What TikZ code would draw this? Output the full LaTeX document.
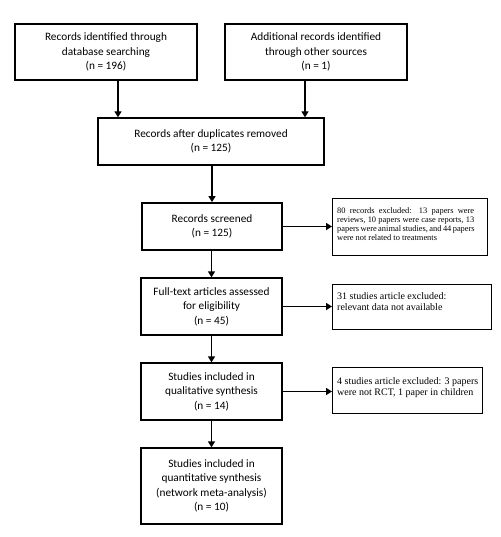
\documentclass[tikz,border=0pt]{standalone}
\usepackage{fontspec}
\setmainfont{Carlito}
\newfontfamily\sidefont{Liberation Serif}
\usetikzlibrary{arrows.meta}
\begin{document}
\begin{tikzpicture}[x=1pt,y=-1pt,
  mainbox/.style={draw, line width=1.3pt, rectangle, align=center, inner sep=0pt,
    font=\fontsize{11.3}{14.5}\selectfont},
  sidebox/.style={draw, line width=1.3pt, rectangle, inner sep=0pt, anchor=north west},
  sidetext/.style={inner sep=0pt, anchor=north west, align=left,
    font=\sidefont\fontsize{10}{11.5}\selectfont},
  arr/.style={line width=1.3pt, -{Triangle[length=6pt,width=7pt]}}]
\useasboundingbox (0,0) rectangle (500,537);
\fill[white] (0,0) rectangle (500,537);
\node[mainbox, minimum width=182pt, minimum height=56pt] (b1) at (106,52)
  {Records identified through\\database searching\\(n = 196)};
\node[mainbox, minimum width=182pt, minimum height=56pt] (b2) at (316,52)
  {Additional records identified\\through other sources\\(n = 1)};
\node[mainbox, minimum width=226pt, minimum height=47pt] (b3) at (211,141.5)
  {Records after duplicates removed\\(n = 125)};
\node[mainbox, line width=1.8pt, minimum width=140pt, minimum height=47pt] (b4) at (212,226.5)
  {Records screened\\(n = 125)};
\node[mainbox, minimum width=141pt, minimum height=57pt] (b5) at (211.5,306.5)
  {Full-text articles assessed\\for eligibility\\(n = 45)};
\node[mainbox, minimum width=141pt, minimum height=57pt] (b6) at (211.5,391.5)
  {Studies included in\\qualitative synthesis\\(n = 14)};
\node[mainbox, minimum width=141pt, minimum height=76pt] (b7) at (211.5,486)
  {Studies included in\\quantitative synthesis\\(network meta-analysis)\\(n = 10)};
\node[sidebox, minimum width=155pt, minimum height=57pt] (s1) at (332,198) {};
\node[sidetext, font=\sidefont\fontsize{8.4}{9}\selectfont, xshift=5pt, yshift=-9pt] (t1) at (s1.north west)
  {\makebox[137pt][s]{80 records excluded: 13 papers were}\\
   \makebox[137pt][s]{reviews, 10 papers were case reports, 13}\\
   \makebox[137pt][s]{papers were animal studies, and 44 papers}\\
   were not related to treatments};
\node[sidebox, minimum width=159pt, minimum height=45pt] (s2) at (332,284) {};
\node[sidetext, xshift=5pt, yshift=-8pt] (t2) at (s2.north west)
  {31 studies article excluded:\\relevant data not available};
\node[sidebox, minimum width=150pt, minimum height=46pt] (s3) at (332,367) {};
\node[sidetext, xshift=5pt, yshift=-10pt] (t3) at (s3.north west)
  {4 studies article excluded: 3 papers\\were not RCT, 1 paper in children};
\coordinate (c1) at (118,0);
\coordinate (c2) at (305,0);
\draw[arr] (b1.south -| c1) -- (b3.north -| c1);
\draw[arr] (b2.south -| c2) -- (b3.north -| c2);
\draw[arr] (b3.south -| b4) -- (b4.north);
\draw[arr] (b4.south -| b5) -- (b5.north);
\draw[arr] (b5.south) -- (b6.north);
\draw[arr] (b6.south) -- (b7.north);
\draw[arr] (b4.east) -- (b4.east -| s1.west);
\draw[arr] (b5.east) -- (b5.east -| s2.west);
\draw[arr] (b6.east) -- (b6.east -| s3.west);
\end{tikzpicture}
\end{document}
